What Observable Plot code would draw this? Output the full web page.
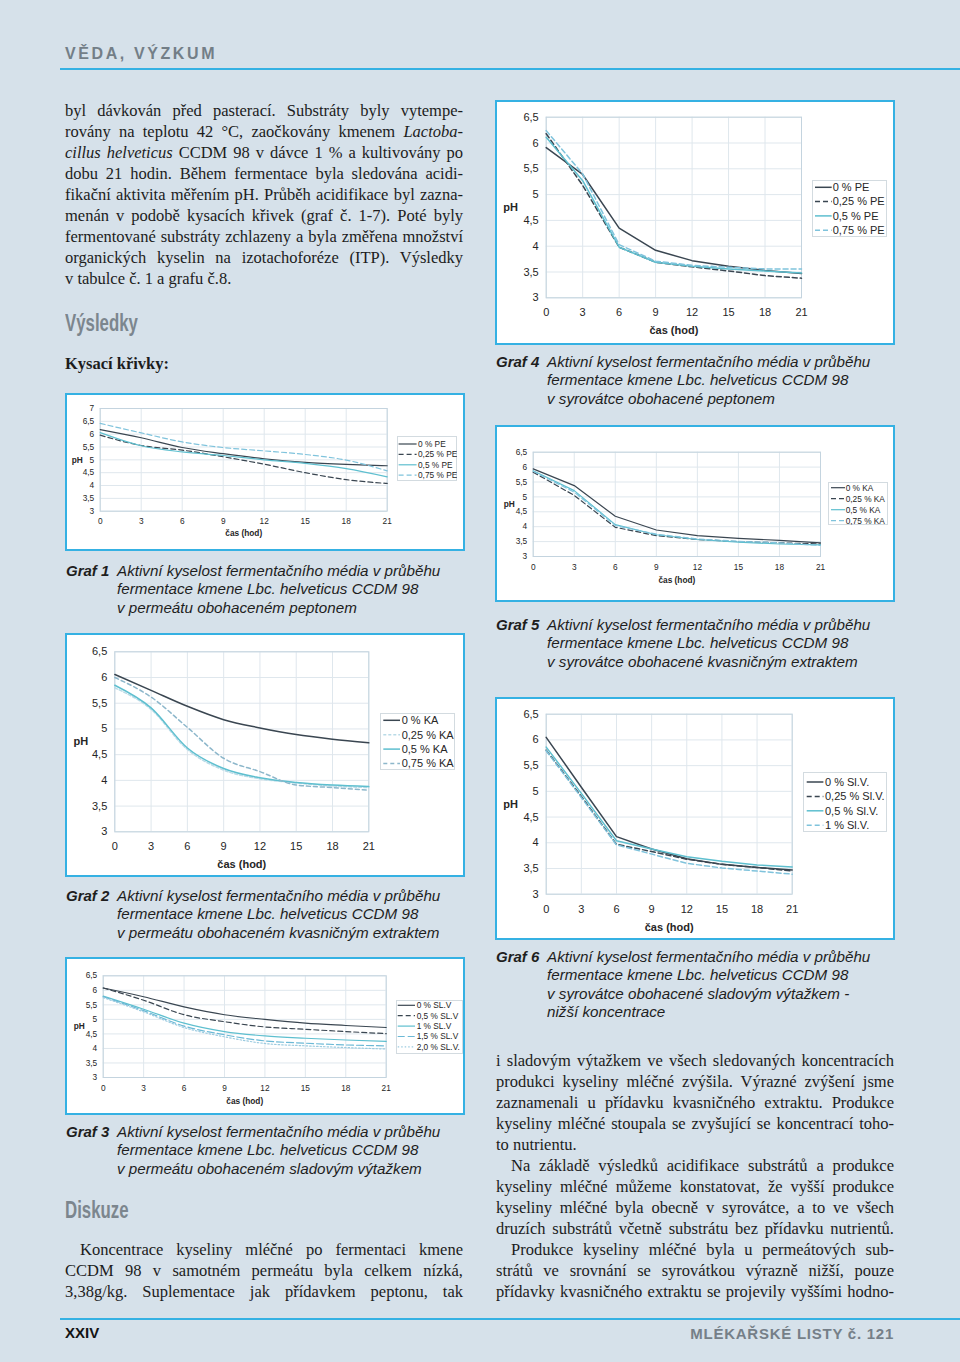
<!DOCTYPE html>
<html><head><meta charset="utf-8">
<script src="https://cdn.jsdelivr.net/npm/d3@7"></script>
<script src="https://cdn.jsdelivr.net/npm/@observablehq/plot@0.6"></script>
<style>
html,body{margin:0;padding:0}
body{width:960px;height:1362px;background:#d6e1ea;position:relative;overflow:hidden;font-family:"Liberation Sans",Arial,sans-serif}
.abs{position:absolute;white-space:nowrap}
.box{position:absolute;border:2px solid #35b1e3;background:#fff;box-sizing:border-box}
.box svg{display:block}
.serif{font-family:"Liberation Serif","Times New Roman",serif;font-size:16.5px;color:#1c1c1c;line-height:21px}
.cap{font-family:"Liberation Sans",Arial,sans-serif;font-style:italic;font-size:15px;color:#1e1e1e;line-height:18px}
.rule{position:absolute;height:2px;background:#35b1e3}
.head{font-family:"Liberation Sans",Arial,sans-serif;font-weight:bold;font-size:24px;color:#7c868e;line-height:26px;transform:scaleX(0.7);transform-origin:0 0}
</style></head>
<body>
<script>
// ---------- DATA ----------
const hours = [0, 3, 6, 9, 12, 15, 18, 21];
const yTicks7 = [3, 3.5, 4, 4.5, 5, 5.5, 6, 6.5, 7];
const yTicks65 = [3, 3.5, 4, 4.5, 5, 5.5, 6, 6.5];

// Graf 1 – permeát + pepton
const g1Labels = ["0 % PE", "0,25 % PE", "0,5 % PE", "0,75 % PE"];
const g1_pe0   = [6.18, 5.86, 5.48, 5.24, 5.04, 4.90, 4.82, 4.77];
const g1_pe025 = [5.96, 5.56, 5.38, 5.12, 4.83, 4.50, 4.23, 4.08];
const g1_pe05  = [6.06, 5.55, 5.31, 5.17, 5.00, 4.86, 4.66, 4.34];
const g1_pe075 = [6.42, 6.05, 5.70, 5.48, 5.35, 5.21, 4.99, 4.57];

// Graf 2 – permeát + kvasničný extrakt
const g2Labels = ["0 % KA", "0,25 % KA", "0,5 % KA", "0,75 % KA"];
const g2_ka0   = [6.06, 5.75, 5.44, 5.18, 5.02, 4.89, 4.80, 4.73];
const g2_ka025 = [5.80, 5.38, 4.60, 4.20, 4.03, 3.95, 3.89, 3.86];
const g2_ka05  = [5.85, 5.41, 4.63, 4.23, 4.05, 3.96, 3.91, 3.88];
const g2_ka075 = [6.00, 5.62, 5.03, 4.43, 4.17, 3.91, 3.86, 3.81];

// Graf 3 – permeát + sladový výtažek
const g3Labels = ["0 % SL.V", "0,5 % SL.V", "1 % SL.V", "1,5 % SL.V", "2,0 % SL.V."];
const g3_sl0  = [6.08, 5.78, 5.43, 5.16, 5.00, 4.87, 4.79, 4.72];
const g3_sl05 = [6.08, 5.66, 5.16, 4.92, 4.74, 4.66, 4.58, 4.51];
const g3_sl1  = [5.80, 5.35, 4.87, 4.58, 4.43, 4.35, 4.29, 4.24];
const g3_sl15 = [5.78, 5.30, 4.77, 4.47, 4.26, 4.18, 4.12, 4.09];
const g3_sl2  = [5.75, 5.26, 4.72, 4.40, 4.17, 4.09, 4.03, 3.98];

// Graf 4 – syrovátka + pepton
const g4Labels = ["0 % PE", "0,25 % PE", "0,5 % PE", "0,75 % PE"];
const g4_pe0   = [5.91, 5.39, 4.35, 3.92, 3.72, 3.61, 3.53, 3.47];
const g4_pe025 = [6.18, 5.18, 3.98, 3.69, 3.60, 3.52, 3.43, 3.38];
const g4_pe05  = [6.11, 5.27, 3.98, 3.69, 3.61, 3.56, 3.52, 3.48];
const g4_pe075 = [6.24, 5.40, 4.03, 3.71, 3.63, 3.59, 3.56, 3.56];

// Graf 5 – syrovátka + kvasničný extrakt
const g5Labels = ["0 % KA", "0,25 % KA", "0,5 % KA", "0,75 % KA"];
const g5_ka0   = [5.94, 5.38, 4.35, 3.89, 3.70, 3.61, 3.54, 3.46];
const g5_ka025 = [5.83, 5.05, 3.98, 3.70, 3.57, 3.50, 3.46, 3.42];
const g5_ka05  = [5.88, 5.21, 4.07, 3.73, 3.57, 3.48, 3.42, 3.39];
const g5_ka075 = [5.86, 5.16, 4.04, 3.75, 3.59, 3.51, 3.46, 3.37];

// Graf 6 – syrovátka + sladový výtažek (nižší koncentrace)
const g6Labels = ["0 % Sl.V.", "0,25 % Sl.V.", "0,5 % Sl.V.", "1 % Sl.V."];
const g6_sl0   = [6.05, 5.08, 4.12, 3.88, 3.69, 3.58, 3.52, 3.47];
const g6_sl025 = [5.80, 4.90, 3.97, 3.83, 3.68, 3.58, 3.52, 3.45];
const g6_sl05  = [5.86, 4.96, 4.04, 3.88, 3.73, 3.64, 3.57, 3.53];
const g6_sl1   = [5.79, 4.88, 3.96, 3.78, 3.60, 3.51, 3.45, 3.39];

const xLabel = "čas (hod)";
const yLabel = "pH";

// ---------- STYLES ----------
const ST = {
  dark:      {stroke: "#3a4651"},
  darkDash:  {stroke: "#3a4651", dash: "5,3"},
  teal:      {stroke: "#5ebfcf"},
  lightDash: {stroke: "#7fc3dc", dash: "5,3"},
  faintDash: {stroke: "#b9dbe7", dash: "3,2"},
  blueDash:  {stroke: "#8db7cb", dash: "4,3"},
  longDash:  {stroke: "#6cb9d6", dash: "7,3"},
  dotted:    {stroke: "#9ccbe0", dash: "1.5,2"}
};
const fmt = d => String(d).replace(".", ",");

function chart(cfg) {
  const box = document.createElement("div");
  box.className = "box";
  Object.assign(box.style, {left: cfg.box[0] + "px", top: cfg.box[1] + "px", width: cfg.box[2] + "px", height: cfg.box[3] + "px"});
  const W = cfg.box[2] - 4, H = cfg.box[3] - 4;
  const data = cfg.series.flatMap(s => hours.map((h, j) => ({h, ph: s.values[j], k: s.label})));
  const lw = cfg.fs > 9 ? 1.5 : 1.2;
  const plot = Plot.plot({
    width: W, height: H,
    marginLeft: cfg.m[0], marginRight: cfg.m[1], marginTop: cfg.m[2], marginBottom: cfg.m[3],
    style: {background: "white", fontFamily: "'Liberation Sans', Arial, sans-serif", fontSize: cfg.fs + "px", color: "#262626", overflow: "visible"},
    x: {domain: [0, 21], ticks: hours, tickSize: 0, tickPadding: cfg.padX, label: null},
    y: {domain: cfg.yDomain, ticks: cfg.yTicks, tickSize: 0, tickPadding: cfg.padY, tickFormat: fmt, label: null},
    marks: [
      Plot.ruleX(hours, {stroke: "#dfe7ed", strokeWidth: 1}),
      Plot.ruleY(cfg.yTicks, {stroke: "#dfe7ed", strokeWidth: 1}),
      Plot.frame({stroke: "#c4d4df"}),
      ...cfg.series.map(s => Plot.line(data.filter(d => d.k === s.label), {
        x: "h", y: "ph", stroke: s.style.stroke, strokeWidth: lw,
        strokeDasharray: s.style.dash || null, curve: cfg.curve
      })),
      Plot.text([xLabel], {text: d => d, frameAnchor: "bottom", dy: cfg.xLabDy, textAnchor: "middle", lineAnchor: "middle", fontWeight: "bold", fill: "#262626"}),
      Plot.text([yLabel], {text: d => d, frameAnchor: "left", dx: -cfg.yLabDx, textAnchor: "middle", lineAnchor: "middle", fontWeight: "bold", fill: "#262626"})
    ]
  });
  box.appendChild(plot);
  // legend
  const L = cfg.legend;
  const svg = d3.create("svg").attr("width", L.w).attr("height", L.h)
    .style("position", "absolute").style("left", L.x + "px").style("top", L.y + "px");
  svg.append("rect").attr("x", 0.5).attr("y", 0.5).attr("width", L.w - 1).attr("height", L.h - 1)
    .attr("fill", "white").attr("stroke", "#d3dbe0");
  cfg.series.forEach((s, i) => {
    const yy = L.y0 + i * L.dy;
    svg.append("line").attr("x1", L.lx).attr("x2", L.lx + L.ll).attr("y1", yy).attr("y2", yy)
      .attr("stroke", s.style.stroke).attr("stroke-width", lw).attr("stroke-dasharray", s.style.dash || null);
    svg.append("text").attr("x", L.tx).attr("y", yy).attr("dy", "0.35em")
      .attr("font-family", "'Liberation Sans', Arial, sans-serif").attr("font-size", cfg.fs).attr("fill", "#262626")
      .text(s.label);
  });
  box.appendChild(svg.node());
  document.body.appendChild(box);
}

const mk = (labels, arrs, styles) => labels.map((l, i) => ({label: l, values: arrs[i], style: styles[i]}));
const std4 = [ST.dark, ST.darkDash, ST.teal, ST.lightDash];

chart({box: [65, 393, 400, 158], m: [32.7, 76.3, 13, 38.3], fs: 8.3, padX: 7, padY: 6, xLabDy: 22, yLabDx: 23,
  yDomain: [3, 7], yTicks: yTicks7, curve: "monotone-x",
  series: mk(g1Labels, [g1_pe0, g1_pe025, g1_pe05, g1_pe075], std4),
  legend: {x: 329.7, y: 41, w: 60, h: 45, y0: 8, dy: 10.4, lx: 1.6, ll: 18, tx: 21}});

chart({box: [65, 633, 400, 244], m: [47.3, 94.7, 16.3, 43.7], fs: 11, padX: 10, padY: 7.5, xLabDy: 33, yLabDx: 34,
  yDomain: [3, 6.5], yTicks: yTicks65, curve: "monotone-x",
  series: mk(g2Labels, [g2_ka0, g2_ka025, g2_ka05, g2_ka075], [ST.dark, ST.faintDash, ST.teal, ST.blueDash]),
  legend: {x: 313, y: 78, w: 75, h: 57, y0: 7.3, dy: 14.4, lx: 3.3, ll: 16.7, tx: 21.7}});

chart({box: [65, 957, 400, 158], m: [35.7, 77.3, 16.3, 36], fs: 8.3, padX: 7.5, padY: 6, xLabDy: 24, yLabDx: 24,
  yDomain: [3, 6.5], yTicks: yTicks65, curve: "monotone-x",
  series: mk(g3Labels, [g3_sl0, g3_sl05, g3_sl1, g3_sl15, g3_sl2], [ST.dark, ST.darkDash, ST.teal, ST.longDash, ST.dotted]),
  legend: {x: 329, y: 41, w: 67, h: 54, y0: 5.3, dy: 10.4, lx: 1.7, ll: 17.3, tx: 20.7}});

chart({box: [495, 100, 400, 245], m: [48.7, 92, 14.7, 45.7], fs: 11, padX: 10.5, padY: 7.5, xLabDy: 32.7, yLabDx: 35.7,
  yDomain: [3, 6.5], yTicks: yTicks65, curve: "linear",
  series: mk(g4Labels, [g4_pe0, g4_pe025, g4_pe05, g4_pe075], std4),
  legend: {x: 315, y: 78, w: 75, h: 57, y0: 7.3, dy: 14.3, lx: 3, ll: 16.7, tx: 20.7}});

chart({box: [495, 425, 400, 177], m: [35.7, 73, 24.7, 44], fs: 8.3, padX: 7.5, padY: 6, xLabDy: 24, yLabDx: 24,
  yDomain: [3, 6.5], yTicks: yTicks65, curve: "linear",
  series: mk(g5Labels, [g5_ka0, g5_ka025, g5_ka05, g5_ka075], std4),
  legend: {x: 331, y: 55, w: 60, h: 43, y0: 5.7, dy: 11, lx: 3, ll: 14, tx: 17.7}});

chart({box: [495, 697, 400, 243], m: [48.7, 101.3, 14.7, 44.3], fs: 11, padX: 10.5, padY: 7.5, xLabDy: 33, yLabDx: 35.7,
  yDomain: [3, 6.5], yTicks: yTicks65, curve: "linear",
  series: mk(g6Labels, [g6_sl0, g6_sl025, g6_sl05, g6_sl1], std4),
  legend: {x: 306, y: 73, w: 84, h: 60, y0: 10, dy: 14.4, lx: 3.7, ll: 16.7, tx: 22}});

// ---------- PAGE TEXT ----------
function el(cls, html, x, y, extra) {
  const d = document.createElement("div");
  d.className = "abs " + cls;
  d.innerHTML = html;
  d.style.left = x + "px"; d.style.top = y + "px";
  if (extra) Object.assign(d.style, extra);
  document.body.appendChild(d);
  return d;
}
function rule(y) { const r = document.createElement("div"); r.className = "rule"; r.style.left = "60px"; r.style.width = "900px"; r.style.top = y + "px"; document.body.appendChild(r); }

el("", "VĚDA, VÝZKUM", 65, 45, {fontWeight: "bold", fontSize: "16px", letterSpacing: "2.6px", color: "#737e87"});
rule(68);
rule(1318);
el("", "XXIV", 65, 1324, {fontWeight: "bold", fontSize: "15px", color: "#141414"});
el("", "MLÉKAŘSKÉ LISTY č. 121", 0, 1325, {fontWeight: "bold", fontSize: "15px", letterSpacing: "0.75px", color: "#757f88", left: "auto", right: (960 - 894) + "px"});
el("head", "Výsledky", 65, 310);
el("head", "Diskuze", 65, 1197);
el("serif", "<b>Kysací křivky:</b>", 65, 353);

// justified lines [text, centerY, last?, indent?]
function block(x, width, lines) {
  lines.forEach(([t, cy, last, ind]) => {
    const off = ind ? 15 : 0;
    const d = el("serif", t, x + off, cy - 11.5);
    if (!last) {
      const w = d.getBoundingClientRect().width;
      const n = (d.textContent.match(/ /g) || []).length;
      if (n) d.style.wordSpacing = ((width - off - w) / n) + "px";
    }
  });
}
block(65, 398, [
  ["byl dávkován před pasterací. Substráty byly vytempe-", 111],
  ["rovány na teplotu 42 °C, zaočkovány kmenem <i>Lactoba-</i>", 132],
  ["<i>cillus helveticus</i> CCDM 98 v dávce 1 % a kultivovány po", 153],
  ["dobu 21 hodin. Během fermentace byla sledována acidi-", 174],
  ["fikační aktivita měřením pH. Průběh acidifikace byl zazna-", 195],
  ["menán v podobě kysacích křivek (graf č. 1-7). Poté byly", 216],
  ["fermentované substráty zchlazeny a byla změřena množství", 237],
  ["organických kyselin na izotachoforéze (ITP). Výsledky", 258],
  ["v tabulce č. 1 a grafu č.8.", 279, true]
]);
block(65, 398, [
  ["Koncentrace kyseliny mléčné po fermentaci kmene", 1250, false, true],
  ["CCDM 98 v samotném permeátu byla celkem nízká,", 1271],
  ["3,38g/kg. Suplementace jak přídavkem peptonu, tak", 1292]
]);
block(496, 398, [
  ["i sladovým výtažkem ve všech sledovaných koncentracích", 1061],
  ["produkci kyseliny mléčné zvýšila. Výrazné zvýšení jsme", 1082],
  ["zaznamenali u přídavku kvasničného extraktu. Produkce", 1103],
  ["kyseliny mléčné stoupala se zvyšující se koncentrací toho-", 1124],
  ["to nutrientu.", 1145, true],
  ["Na základě výsledků acidifikace substrátů a produkce", 1166, false, true],
  ["kyseliny mléčné můžeme konstatovat, že vyšší produkce", 1187],
  ["kyseliny mléčné byla obecně v syrovátce, a to ve všech", 1208],
  ["druzích substrátů včetně substrátu bez přídavku nutrientů.", 1229],
  ["Produkce kyseliny mléčné byla u permeátových sub-", 1250, false, true],
  ["strátů ve srovnání se syrovátkou výrazně nižší, pouze", 1271],
  ["přídavky kvasničného extraktu se projevily vyššími hodno-", 1292]
]);

// captions
const capHead = "Aktivní kyselost fermentačního média v průběhu";
const capMid = "fermentace kmene Lbc. helveticus CCDM 98";
function caption(n, x, y, lines) {
  el("cap", "<b>Graf " + n + "</b>", x + 1, y - 8.5);
  lines.forEach((t, i) => el("cap", t, x + 52, y - 8.5 + i * 18.5, {fontSize: "15.2px"}));
}
caption(1, 65, 570, [capHead, capMid, "v permeátu obohaceném peptonem"]);
caption(2, 65, 895, [capHead, capMid, "v permeátu obohaceném kvasničným extraktem"]);
caption(3, 65, 1131, [capHead, capMid, "v permeátu obohaceném sladovým výtažkem"]);
caption(4, 495, 361, [capHead, capMid, "v syrovátce obohacené peptonem"]);
caption(5, 495, 624, [capHead, capMid, "v syrovátce obohacené kvasničným extraktem"]);
caption(6, 495, 956, [capHead, capMid, "v syrovátce obohacené sladovým výtažkem -", "nižší koncentrace"]);
</script>
</body></html>
